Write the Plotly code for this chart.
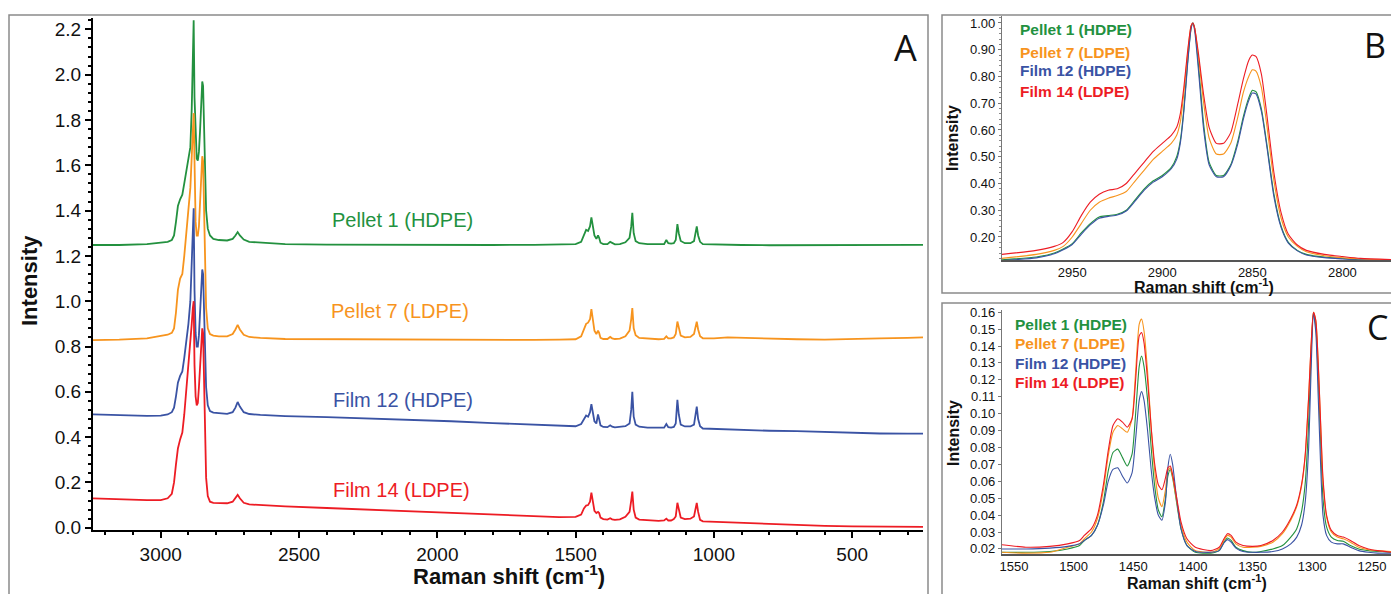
import plotly.graph_objects as go

# ---------------- DATA ----------------
series_names = ["Pellet 1 (HDPE)", "Pellet 7 (LDPE)", "Film 12 (HDPE)", "Film 14 (LDPE)"]
series_colors = ["#23913f", "#f7941e", "#3a53a4", "#ed1c24"]

# Panel A: full spectra (offset)
wn_A = [3245, 3150, 3050, 3000, 2975, 2960, 2952, 2945, 2938, 2930, 2922, 2915, 2908, 2900, 2893,
        2888, 2884, 2881, 2878, 2874, 2870, 2866, 2862, 2858, 2854, 2850, 2847, 2844, 2840, 2836,
        2830, 2822, 2810, 2790, 2760, 2740, 2730, 2722, 2714, 2700, 2680, 2640, 2550, 2400, 2250,
        2100, 1950, 1800, 1650, 1560, 1500, 1480, 1470, 1462, 1455, 1448, 1443, 1438, 1432, 1425,
        1419, 1415, 1410, 1400, 1385, 1375, 1368, 1358, 1340, 1320, 1305, 1299, 1295, 1290, 1283,
        1270, 1240, 1200, 1180, 1172, 1165, 1155, 1145, 1138, 1132, 1127, 1120, 1105, 1085, 1072,
        1066, 1062, 1057, 1050, 1040, 1000, 950, 900, 800, 700, 600, 500, 400, 300, 244]

pellet1_A = [1.248, 1.248, 1.252, 1.258, 1.262, 1.27, 1.29, 1.35, 1.42, 1.45, 1.47, 1.52, 1.57, 1.62, 1.68,
             1.85, 2.05, 2.24, 1.90, 1.70, 1.63, 1.62, 1.66, 1.75, 1.88, 1.97, 1.95, 1.80, 1.55, 1.40,
             1.32, 1.29, 1.275, 1.27, 1.268, 1.275, 1.29, 1.305, 1.29, 1.272, 1.262, 1.258, 1.252, 1.250, 1.249,
             1.249, 1.248, 1.248, 1.249, 1.250, 1.252, 1.262, 1.29, 1.315, 1.31, 1.33, 1.37, 1.34, 1.29, 1.275,
             1.29, 1.28, 1.258, 1.252, 1.252, 1.262, 1.256, 1.251, 1.252, 1.26, 1.28, 1.33, 1.39, 1.30, 1.265,
             1.256, 1.252, 1.250, 1.252, 1.27, 1.256, 1.254, 1.256, 1.27, 1.34, 1.30, 1.266, 1.256, 1.256, 1.265,
             1.30, 1.33, 1.29, 1.262, 1.252, 1.250, 1.249, 1.248, 1.247, 1.247, 1.246, 1.248, 1.249, 1.249, 1.249]

pellet7_A = [0.828, 0.830, 0.836, 0.845, 0.852, 0.86, 0.88, 0.95, 1.05, 1.10, 1.12, 1.20, 1.30, 1.40, 1.50,
             1.64, 1.75, 1.83, 1.62, 1.35, 1.29, 1.29, 1.33, 1.42, 1.55, 1.64, 1.62, 1.45, 1.15, 0.97,
             0.88, 0.855, 0.848, 0.845, 0.845, 0.855, 0.875, 0.895, 0.875, 0.852, 0.842, 0.838, 0.833, 0.832, 0.832,
             0.830, 0.830, 0.829, 0.829, 0.830, 0.832, 0.845, 0.875, 0.90, 0.905, 0.92, 0.965, 0.93, 0.87, 0.855,
             0.87, 0.86, 0.838, 0.833, 0.833, 0.842, 0.836, 0.833, 0.835, 0.845, 0.87, 0.92, 0.97, 0.88, 0.85,
             0.838, 0.834, 0.832, 0.834, 0.845, 0.836, 0.836, 0.84, 0.855, 0.91, 0.88, 0.848, 0.84, 0.842, 0.855,
             0.885, 0.91, 0.875, 0.845, 0.836, 0.836, 0.840, 0.838, 0.834, 0.832, 0.830, 0.834, 0.836, 0.838, 0.840]

film12_A = [0.500, 0.496, 0.494, 0.495, 0.50, 0.51, 0.53, 0.58, 0.64, 0.67, 0.69, 0.75, 0.82, 0.90, 1.00,
            1.20, 1.35, 1.41, 1.05, 0.86, 0.80, 0.80, 0.85, 0.95, 1.07, 1.14, 1.12, 1.00, 0.78, 0.62,
            0.54, 0.515, 0.508, 0.505, 0.503, 0.51, 0.53, 0.555, 0.535, 0.51, 0.502, 0.498, 0.493, 0.488, 0.483,
            0.478, 0.470, 0.462, 0.455, 0.450, 0.448, 0.458, 0.48, 0.495, 0.49, 0.51, 0.545, 0.51, 0.47, 0.46,
            0.50, 0.48, 0.452, 0.445, 0.444, 0.452, 0.446, 0.443, 0.444, 0.448, 0.46, 0.52, 0.60, 0.49, 0.455,
            0.446, 0.442, 0.440, 0.442, 0.458, 0.444, 0.442, 0.445, 0.46, 0.565, 0.50, 0.455, 0.447, 0.447, 0.455,
            0.50, 0.535, 0.48, 0.448, 0.438, 0.436, 0.434, 0.432, 0.428, 0.426, 0.422, 0.418, 0.416, 0.415, 0.415]

film14_A = [0.130, 0.125, 0.122, 0.122, 0.13, 0.15, 0.20, 0.28, 0.35, 0.39, 0.42, 0.50, 0.60, 0.70, 0.80,
            0.90, 0.97, 1.00, 0.72, 0.58, 0.54, 0.55, 0.62, 0.72, 0.82, 0.88, 0.86, 0.70, 0.40, 0.22,
            0.14, 0.115, 0.11, 0.108, 0.108, 0.115, 0.13, 0.145, 0.13, 0.11, 0.103, 0.10, 0.094, 0.087, 0.080,
            0.072, 0.064, 0.057, 0.050, 0.047, 0.048, 0.058, 0.085, 0.098, 0.10, 0.115, 0.155, 0.12, 0.075, 0.065,
            0.07, 0.065, 0.045, 0.038, 0.036, 0.042, 0.037, 0.035, 0.037, 0.048, 0.07, 0.12, 0.16, 0.08, 0.045,
            0.036, 0.032, 0.030, 0.032, 0.04, 0.032, 0.032, 0.038, 0.05, 0.11, 0.08, 0.045, 0.038, 0.04, 0.05,
            0.085, 0.11, 0.07, 0.035, 0.028, 0.026, 0.024, 0.022, 0.015, 0.010, 0.008, 0.006, 0.005, 0.004, 0.004]

# Panel B: C-H stretching region (normalised)
wn_B = [2989, 2970, 2960, 2955, 2950, 2945, 2940, 2935, 2930, 2925, 2920, 2915, 2910, 2905, 2900,
        2895, 2892, 2890, 2888, 2886, 2884, 2883, 2882, 2880, 2877, 2874, 2870, 2866, 2862, 2858,
        2855, 2852, 2850, 2848, 2845, 2842, 2838, 2834, 2830, 2825, 2820, 2810, 2800, 2790, 2773]

pellet1_B = [0.115, 0.125, 0.14, 0.155, 0.175, 0.215, 0.25, 0.275, 0.28, 0.285, 0.30, 0.34, 0.38, 0.41, 0.43,
             0.46, 0.50, 0.56, 0.68, 0.85, 0.98, 1.0, 0.98, 0.85, 0.62, 0.48, 0.43, 0.43, 0.47, 0.56,
             0.65, 0.72, 0.748, 0.743, 0.68, 0.55, 0.36, 0.24, 0.18, 0.15, 0.135, 0.125, 0.12, 0.115, 0.113]
pellet7_B = [0.12, 0.135, 0.15, 0.165, 0.20, 0.25, 0.30, 0.33, 0.345, 0.355, 0.37, 0.41, 0.45, 0.49, 0.52,
             0.55, 0.58, 0.63, 0.74, 0.88, 0.99, 1.0, 0.98, 0.88, 0.70, 0.57, 0.51, 0.51, 0.55, 0.65,
             0.74, 0.80, 0.825, 0.82, 0.76, 0.62, 0.41, 0.27, 0.20, 0.165, 0.145, 0.13, 0.122, 0.118, 0.115]
film12_B = [0.112, 0.122, 0.137, 0.152, 0.172, 0.21, 0.245, 0.27, 0.277, 0.282, 0.297, 0.335, 0.375, 0.405, 0.425,
            0.455, 0.49, 0.55, 0.67, 0.84, 0.98, 1.0, 0.97, 0.83, 0.60, 0.47, 0.425, 0.425, 0.465, 0.55,
            0.64, 0.71, 0.738, 0.735, 0.67, 0.54, 0.35, 0.235, 0.177, 0.148, 0.133, 0.123, 0.118, 0.114, 0.112]
film14_B = [0.135, 0.15, 0.165, 0.18, 0.22, 0.28, 0.33, 0.36, 0.375, 0.38, 0.40, 0.44, 0.48, 0.52, 0.55,
            0.58, 0.61, 0.66, 0.76, 0.89, 0.99, 1.0, 0.98, 0.89, 0.73, 0.61, 0.55, 0.55, 0.59, 0.70,
            0.79, 0.86, 0.88, 0.875, 0.81, 0.66, 0.44, 0.29, 0.21, 0.17, 0.15, 0.135, 0.127, 0.12, 0.116]

# Panel C: fingerprint region (normalised)
wn_C = [1560, 1540, 1520, 1505, 1495, 1491, 1485, 1480, 1475, 1471, 1467, 1463, 1459, 1455, 1451,
        1448, 1445, 1443, 1441, 1438, 1435, 1432, 1429, 1426, 1423, 1421, 1419, 1417, 1414, 1410,
        1405, 1398, 1385, 1378, 1374, 1371, 1368, 1364, 1358, 1350, 1343, 1333, 1325, 1318, 1313,
        1309, 1306, 1303, 1301, 1299, 1297, 1295, 1293, 1291, 1288, 1284, 1279, 1274, 1268, 1261,
        1253, 1245, 1234]

pellet1_C = [0.018, 0.018, 0.0185, 0.020, 0.022, 0.025, 0.028, 0.034, 0.048, 0.066, 0.077, 0.079, 0.074, 0.069, 0.076,
             0.10, 0.128, 0.134, 0.128, 0.108, 0.080, 0.057, 0.043, 0.039, 0.050, 0.063, 0.067, 0.062, 0.049, 0.032,
             0.022, 0.018, 0.0175, 0.019, 0.024, 0.0265, 0.025, 0.021, 0.019, 0.018, 0.0185, 0.020, 0.022, 0.027, 0.032,
             0.042, 0.058, 0.095, 0.135, 0.16, 0.152, 0.122, 0.085, 0.05, 0.033, 0.027, 0.025, 0.0245, 0.022, 0.020,
             0.019, 0.0185, 0.018]
pellet7_C = [0.018, 0.0175, 0.018, 0.021, 0.023, 0.026, 0.030, 0.038, 0.055, 0.075, 0.089, 0.093, 0.091, 0.089, 0.097,
             0.125, 0.153, 0.156, 0.149, 0.125, 0.092, 0.066, 0.050, 0.045, 0.055, 0.066, 0.068, 0.063, 0.050, 0.034,
             0.024, 0.019, 0.018, 0.020, 0.025, 0.028, 0.027, 0.023, 0.021, 0.021, 0.0215, 0.024, 0.029, 0.037, 0.045,
             0.057, 0.074, 0.11, 0.14, 0.16, 0.155, 0.13, 0.094, 0.06, 0.039, 0.030, 0.027, 0.026, 0.024, 0.021,
             0.0195, 0.019, 0.0185]
film12_C = [0.020, 0.020, 0.0205, 0.0215, 0.023, 0.025, 0.028, 0.034, 0.046, 0.060, 0.067, 0.068, 0.063, 0.059, 0.065,
            0.085, 0.108, 0.113, 0.108, 0.090, 0.067, 0.050, 0.040, 0.037, 0.048, 0.068, 0.076, 0.070, 0.052, 0.032,
            0.022, 0.0185, 0.018, 0.019, 0.0235, 0.0255, 0.024, 0.0205, 0.0185, 0.018, 0.018, 0.0185, 0.020, 0.023, 0.027,
            0.034, 0.047, 0.080, 0.125, 0.159, 0.148, 0.11, 0.07, 0.04, 0.028, 0.024, 0.023, 0.023, 0.021, 0.019,
            0.018, 0.0175, 0.0175]
film14_C = [0.0225, 0.021, 0.0215, 0.023, 0.025, 0.028, 0.032, 0.040, 0.058, 0.078, 0.093, 0.097, 0.095, 0.092, 0.097,
            0.12, 0.146, 0.148, 0.142, 0.12, 0.092, 0.070, 0.058, 0.055, 0.062, 0.068, 0.069, 0.064, 0.052, 0.036,
            0.026, 0.021, 0.019, 0.021, 0.026, 0.029, 0.028, 0.024, 0.022, 0.0215, 0.022, 0.025, 0.030, 0.038, 0.046,
            0.058, 0.075, 0.11, 0.14, 0.16, 0.155, 0.13, 0.095, 0.062, 0.04, 0.031, 0.028, 0.027, 0.025, 0.022,
            0.020, 0.019, 0.018]

ticks_A_x = [3000, 2500, 2000, 1500, 1000, 500]
ticks_B_x = [2950, 2900, 2850, 2800]
ticks_B_y = [0.2, 0.3, 0.4, 0.5, 0.6, 0.7, 0.8, 0.9, 1.0]
ticks_C_x = [1550, 1500, 1450, 1400, 1350, 1300, 1250]
ticks_C_y = [0.02, 0.03, 0.04, 0.05, 0.06, 0.07, 0.08, 0.09, 0.10, 0.11, 0.12, 0.13, 0.14, 0.15, 0.16]

# ---------------- FIGURE ----------------
W, H = 1391, 594
def px(x):
    return x / W
def py(y):
    return 1 - y / H

FONT = "Liberation Sans, Arial, sans-serif"

fig = go.Figure()
A_series = [pellet1_A, pellet7_A, film12_A, film14_A]
B_series = [pellet1_B, pellet7_B, film12_B, film14_B]
C_series = [pellet1_C, pellet7_C, film12_C, film14_C]

for name, col, ys in zip(series_names, series_colors, A_series):
    fig.add_trace(go.Scatter(x=wn_A, y=ys, mode="lines", name=name,
                             line=dict(color=col, width=1.8), xaxis="x", yaxis="y", showlegend=False))
for name, col, ys in zip(series_names, series_colors, B_series):
    fig.add_trace(go.Scatter(x=wn_B, y=ys, mode="lines", name=name,
                             line=dict(color=col, width=1.1, shape="spline", smoothing=0.6),
                             xaxis="x2", yaxis="y2", showlegend=False))
for name, col, ys in zip(series_names, series_colors, C_series):
    fig.add_trace(go.Scatter(x=wn_C, y=ys, mode="lines", name=name,
                             line=dict(color=col, width=1.1, shape="spline", smoothing=0.6),
                             xaxis="x3", yaxis="y3", showlegend=False))

common = dict(showgrid=False, zeroline=False, showline=True, ticks="outside", automargin=False)

fig.update_layout(
    width=W, height=H, margin=dict(l=0, r=0, t=0, b=0),
    paper_bgcolor="white", plot_bgcolor="white",
    font=dict(family=FONT, color="#111"),
    xaxis=dict(common, domain=[px(93), px(923)], range=[3245, 244], anchor="y",
               linecolor="black", linewidth=2, tickcolor="black", ticklen=6, tickwidth=1.5,
               tickmode="array", tickvals=ticks_A_x, tickfont=dict(size=19, family=FONT, color="#111"),
               minor=dict(ticks="outside", ticklen=3, tickcolor="black", dtick=100, tick0=0)),
    yaxis=dict(common, domain=[py(530), py(18)], range=[-0.01, 2.25], anchor="x",
               linecolor="black", linewidth=2, tickcolor="black", ticklen=6, tickwidth=1.5,
               tick0=0, dtick=0.2, tickformat=".1f", tickfont=dict(size=19, family=FONT, color="#111"),
               minor=dict(ticks="outside", ticklen=3, tickcolor="black", dtick=0.04, tick0=0)),
    xaxis2=dict(common, domain=[px(1002), 1.0], range=[2989, 2773], anchor="y2",
                linecolor="#555", linewidth=1.5, ticks="",
                tickmode="array", tickvals=ticks_B_x, tickfont=dict(size=13, family=FONT, color="#111")),
    yaxis2=dict(common, domain=[py(260), py(16)], range=[0.114, 1.026], anchor="x2",
                linecolor="#777", linewidth=1.2, tickcolor="#777", ticklen=3,
                tickmode="array", tickvals=ticks_B_y, tickformat=".2f",
                tickfont=dict(size=13, family=FONT, color="#111"),
                minor=dict(ticks="outside", ticklen=2, tickcolor="#888", dtick=0.02, tick0=0)),
    xaxis3=dict(common, domain=[px(1002), 1.0], range=[1560, 1234], anchor="y3",
                linecolor="#555", linewidth=1.5, ticks="",
                tickmode="array", tickvals=ticks_C_x, tickfont=dict(size=13, family=FONT, color="#111")),
    yaxis3=dict(common, domain=[py(554), py(310)], range=[0.017, 0.1613], anchor="x3",
                linecolor="#777", linewidth=1.2, tickcolor="#777", ticklen=3,
                tickmode="array", tickvals=ticks_C_y, tickformat=".2f",
                tickfont=dict(size=13, family=FONT, color="#111")),
)

# panel borders
border = dict(type="rect", xref="paper", yref="paper", line=dict(color="#8a8a8a", width=1.5),
              fillcolor="rgba(0,0,0,0)", layer="below")
fig.add_shape(border, x0=px(9), x1=px(928), y0=py(600), y1=py(15))
fig.add_shape(border, x0=px(942), x1=px(1400), y0=py(293), y1=py(15))
fig.add_shape(border, x0=px(942), x1=px(1400), y0=py(600), y1=py(303))

ann = []
def text(x, y, t, size, color="#111", bold=False, xanchor="center", angle=0, family=FONT):
    ann.append(dict(x=px(x), y=py(y), xref="paper", yref="paper", text=(f"<b>{t}</b>" if bold else t),
                    showarrow=False, xanchor=xanchor, yanchor="middle", textangle=angle,
                    font=dict(size=size, color=color, family=family)))

# panel A labels
label_pos_A = [(403, 220), (400, 311), (403, 400), (401, 490)]
for (x, y), name, col in zip(label_pos_A, series_names, series_colors):
    text(x, y, name, 20, col)
text(29, 281, "Intensity", 22, bold=True, angle=-90)
text(509, 575, "Raman shift (cm<sup>-1</sup>)", 22, bold=True)
text(905, 47, "A", 36, family="Open Sans, sans-serif")

# panel B
leg_B = [29, 52, 71, 91]
for y, name, col in zip(leg_B, series_names, series_colors):
    text(1018, y, name, 15.5, col, bold=True, xanchor="left")
text(953, 138, "Intensity", 16, bold=True, angle=-90)
text(1204, 286, "Raman shift (cm<sup>-1</sup>)", 16, bold=True)
text(1375, 45, "B", 34, family="Open Sans, sans-serif")

# panel C
leg_C = [324, 343, 363, 382]
for y, name, col in zip(leg_C, series_names, series_colors):
    text(1013, y, name, 15.5, col, bold=True, xanchor="left")
text(953, 433, "Intensity", 16, bold=True, angle=-90)
text(1197, 582, "Raman shift (cm<sup>-1</sup>)", 16, bold=True)
text(1377, 327, "C", 34, family="Open Sans, sans-serif")

fig.update_layout(annotations=ann)
fig.write_html("out.html", config={"displayModeBar": False},
               post_script="document.body.style.margin='0';document.body.style.overflow='hidden';")
